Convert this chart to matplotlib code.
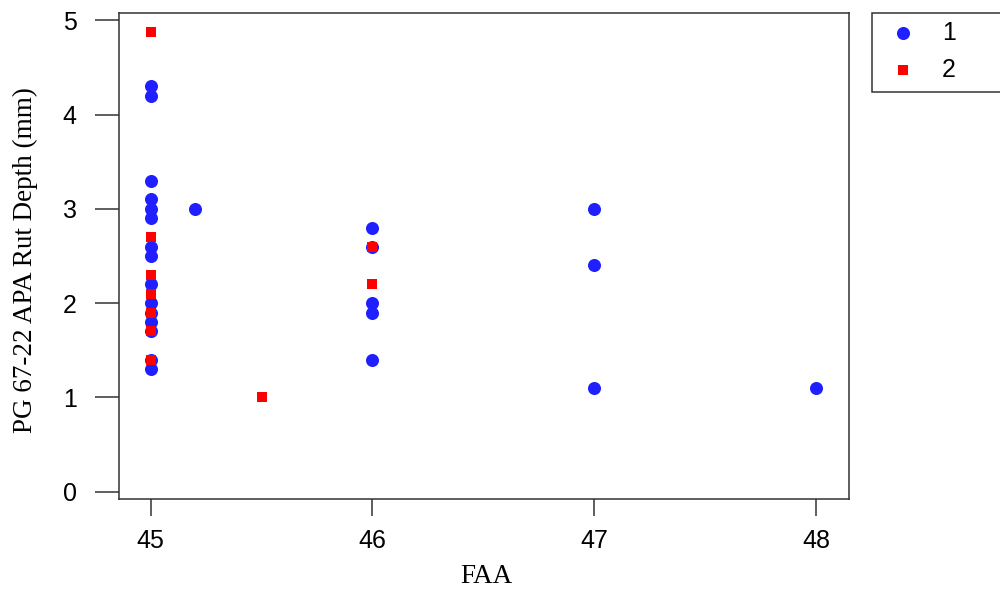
import matplotlib
matplotlib.use('agg')
from matplotlib import pyplot
from matplotlib.lines import Line2D
from matplotlib.patches import Rectangle

# group 1 (blue circles)
faa_1 = [45, 45, 45, 45, 45, 45, 45, 45, 45, 45, 45, 45, 45, 45, 45,
         45.2,
         46, 46, 46, 46, 46,
         47, 47, 47,
         48]
rut_1 = [4.3, 4.2, 3.3, 3.1, 3.0, 2.9, 2.6, 2.5, 2.2, 2.0, 1.9, 1.8, 1.7, 1.4, 1.3,
         3.0,
         2.8, 2.6, 2.0, 1.9, 1.4,
         3.0, 2.4, 1.1,
         1.1]

# group 2 (red squares)
faa_2 = [45, 45, 45, 45, 45, 45, 45, 45.5, 46, 46]
rut_2 = [4.88, 2.7, 2.3, 2.1, 1.9, 1.7, 1.4, 1.0, 2.6, 2.2]

x_ticks = [45, 46, 47, 48]
y_ticks = [0, 1, 2, 3, 4, 5]
group_names = ['1', '2']

blue = '#1f1fff'
red = '#ff0000'
line_col = '#333333'

figura = pyplot.figure(figsize=(10, 5.95), dpi=100)
axes = figura.add_axes([0.1185, 0.1618, 0.849 - 0.1185, 0.9787 - 0.1618])

axes.scatter(faa_1, rut_1, s=88, color=blue, marker='o', linewidths=0, zorder=3)
axes.scatter(faa_2, rut_2, s=46, color=red, marker='s', linewidths=0, zorder=4)

axes.set_xlim(44.855, 48.149)
axes.set_ylim(-0.074, 5.08)
axes.set_xticks(x_ticks)
axes.set_yticks(y_ticks)
axes.set_xticklabels([str(v) for v in x_ticks], family='Liberation Sans', fontsize=18)
axes.set_yticklabels([str(v) for v in y_ticks], family='Liberation Sans', fontsize=18)
axes.tick_params(axis='x', direction='out', length=12.5, width=1.1, pad=9, color=line_col)
axes.tick_params(axis='y', direction='out', length=17, width=1.1, pad=13, color=line_col)

for side in axes.spines.values():
    side.set_linewidth(1.1)
    side.set_color(line_col)

axes.set_xlabel('FAA', family='Liberation Serif', fontsize=19.5, va='center')
axes.xaxis.set_label_coords(0.504, -0.161)
axes.set_ylabel('PG 67-22 APA Rut Depth (mm)', family='Liberation Serif', fontsize=19.5, va='center')
axes.yaxis.set_label_coords(-0.128, 0.492)

# legend box, partly running off the right edge
figura.add_artist(Rectangle((0.872, 1 - 92 / 595), 0.2, (92 - 13) / 595,
                            transform=figura.transFigure, facecolor='white',
                            edgecolor=line_col, linewidth=1.1))
legend_marks = [('o', 9.4, blue), ('s', 6.8, red)]
for k, (name, (mk, ms, col)) in enumerate(zip(group_names, legend_marks)):
    y_row = 1 - (33 + 37 * k) / 595
    figura.add_artist(Line2D([0.903], [y_row], transform=figura.transFigure,
                             linestyle='none', marker=mk, markersize=ms,
                             color=col, markeredgewidth=0))
    figura.text(0.942, y_row, name, family='Liberation Sans', fontsize=18,
                ha='left', va='center')

pyplot.savefig('out.png')
